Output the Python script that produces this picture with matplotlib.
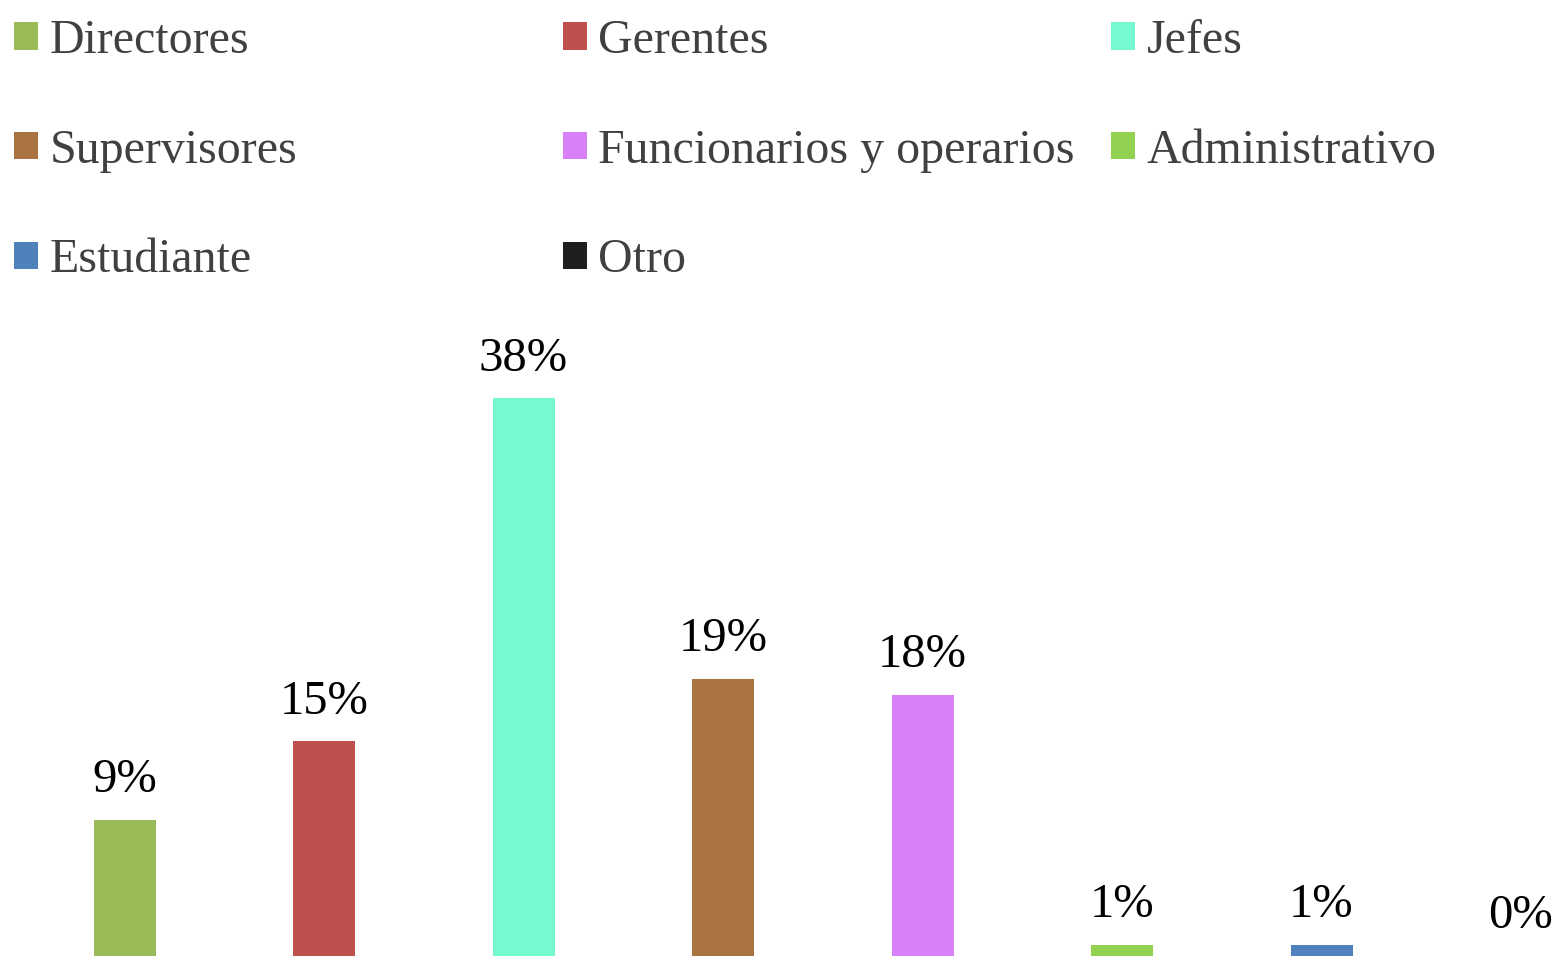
import matplotlib
matplotlib.use("Agg")
import matplotlib.pyplot as plt

# Data (percent of respondents)
categories = ["Directores", "Gerentes", "Jefes", "Supervisores",
              "Funcionarios y operarios", "Administrativo", "Estudiante", "Otro"]
values = [9.3, 14.7, 38.2, 19.0, 17.9, 0.75, 0.75, 0.0]
colors = ["#9BBB59", "#C0504D", "#76F9D0", "#A9743F",
          "#D780F7", "#92D050", "#4F81BD", "#1F1F1F"]

plt.rcParams["font.family"] = ["Liberation Serif", "DejaVu Serif"]

W, H = 1557, 956
fig = plt.figure(figsize=(W / 100, H / 100), dpi=100)

# axes spans full width; bars spaced ~199.5 px, first center at ~124.5 px
step_px = 199.5
first_px = 124.5
ax_top_px = 300
ax = fig.add_axes([0, 0, 1, (H - ax_top_px) / H])
ax.set_xlim(-first_px / step_px, (W - first_px) / step_px)
ax.set_ylim(0, (H - ax_top_px) / 14.6)
ax.axis("off")

x = list(range(len(categories)))
bars = ax.bar(x, values, width=62 / step_px, color=colors)

for xi, v in zip(x, values):
    ax.annotate(f"{v:.0f}%", (xi, v), xytext=(0, 20), textcoords="offset points",
                ha="center", va="baseline", fontsize=35, color="black")

# legend laid out row-wise in three fixed columns
col_x = [14 / W, 563 / W, 1111 / W]
for c in range(3):
    idx = list(range(c, len(categories), 3))
    fig.legend([bars[i] for i in idx], [categories[i] for i in idx],
               loc="upper left", bbox_to_anchor=(col_x[c], 1 - 19 / H),
               frameon=False, fontsize=34.5, labelcolor="#404040",
               handlelength=0.5, handleheight=0.5, handletextpad=0.24,
               labelspacing=1.37, borderpad=0, borderaxespad=0)

fig.savefig("out.png", dpi=100)
